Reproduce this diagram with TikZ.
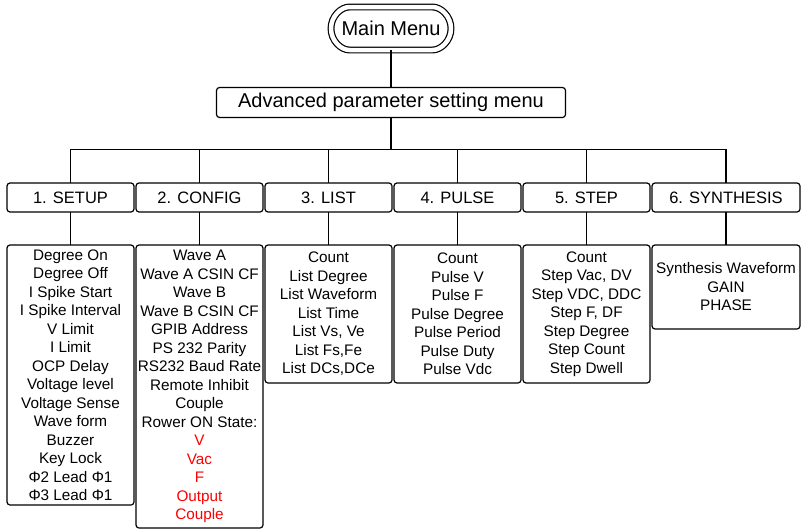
\documentclass[tikz,border=0pt]{standalone}
\usepackage{fontspec}
\setmainfont{Liberation Sans}
\usetikzlibrary{shapes.misc, positioning}

\begin{document}
\begin{tikzpicture}
        [
        x=1pt, y=-1pt,
        node distance=33pt and 2pt,
        every node/.style={draw, rectangle, rounded corners=3pt, line width=1.2pt, outer sep=0pt, inner sep=0pt, align=center},
        head/.style={font=\fontsize{20}{24}\selectfont},
        tab/.style={minimum width=127pt, minimum height=29pt, font=\fontsize{16.5}{20}\selectfont},
        items/.style={minimum width=127pt, font=\fontsize{15.3}{18.5}\selectfont},
        link/.style={line width=1.2pt}
        ]
        \useasboundingbox (0,0) rectangle (803,530);

        \node (main) [head, rounded rectangle, double, double distance=4.5pt, minimum width=120pt, minimum height=43pt] at (391,28.5) {Main Menu};
        \node (adv) [head, below=37.5pt of main, minimum width=349pt, minimum height=30pt] {Advanced parameter setting menu};
        \coordinate [below=32pt of adv] (bus);

        % menu tabs
        \node (setup) [tab] at (70.5,197.5) {1. SETUP};
        \node (config) [tab, right=of setup] {2. CONFIG};
        \node (list) [tab, right=of config] {3. LIST};
        \node (pulse) [tab, right=of list] {4. PULSE};
        \node (step) [tab, right=of pulse] {5. STEP};
        \node (synth) [tab, right=of step, minimum width=148pt] {6. SYNTHESIS};

        % item boxes
        \node (setup items) [items, below=of setup, minimum height=260pt]
            {Degree On\\Degree Off\\I Spike Start\\I Spike Interval\\V Limit\\I Limit\\OCP Delay\\Voltage level\\Voltage Sense\\Wave form\\Buzzer\\Key Lock\\Φ2 Lead Φ1\\Φ3 Lead Φ1};
        \node (config items) [items, below=of config, minimum height=283pt]
            {Wave A\\Wave A CSIN CF\\Wave B\\Wave B CSIN CF\\GPIB Address\\PS 232 Parity\\RS232 Baud Rate\\Remote Inhibit\\Couple\\Rower ON State:\\\textcolor{red}{V}\\\textcolor{red}{Vac}\\\textcolor{red}{F}\\\textcolor{red}{Output}\\\textcolor{red}{Couple}};
        \node (list items) [items, below=of list, minimum height=138pt]
            {Count\\List Degree\\List Waveform\\List Time\\List Vs, Ve\\List Fs,Fe\\List DCs,DCe};
        \node (pulse items) [items, below=of pulse, minimum height=138pt]
            {Count\\Pulse V\\Pulse F\\Pulse Degree\\Pulse Period\\Pulse Duty\\Pulse Vdc};
        \node (step items) [items, below=of step, minimum height=138pt]
            {Count\\Step Vac, DV\\Step VDC, DDC\\Step F, DF\\Step Degree\\Step Count\\Step Dwell};
        \node (synth items) [items, below=of synth, minimum width=148pt, minimum height=84pt]
            {Synthesis Waveform\\GAIN\\PHASE};

        % Edges
        \draw [link] (main) -- (adv);
        \draw [link] (adv) -- (bus);
        \foreach \n in {setup, config, list, pulse, step, synth} {
            \draw [link] (bus) -| (\n);
            \draw [link] (\n) -- (\n\space items);
        }

    \end{tikzpicture}
\end{document}
